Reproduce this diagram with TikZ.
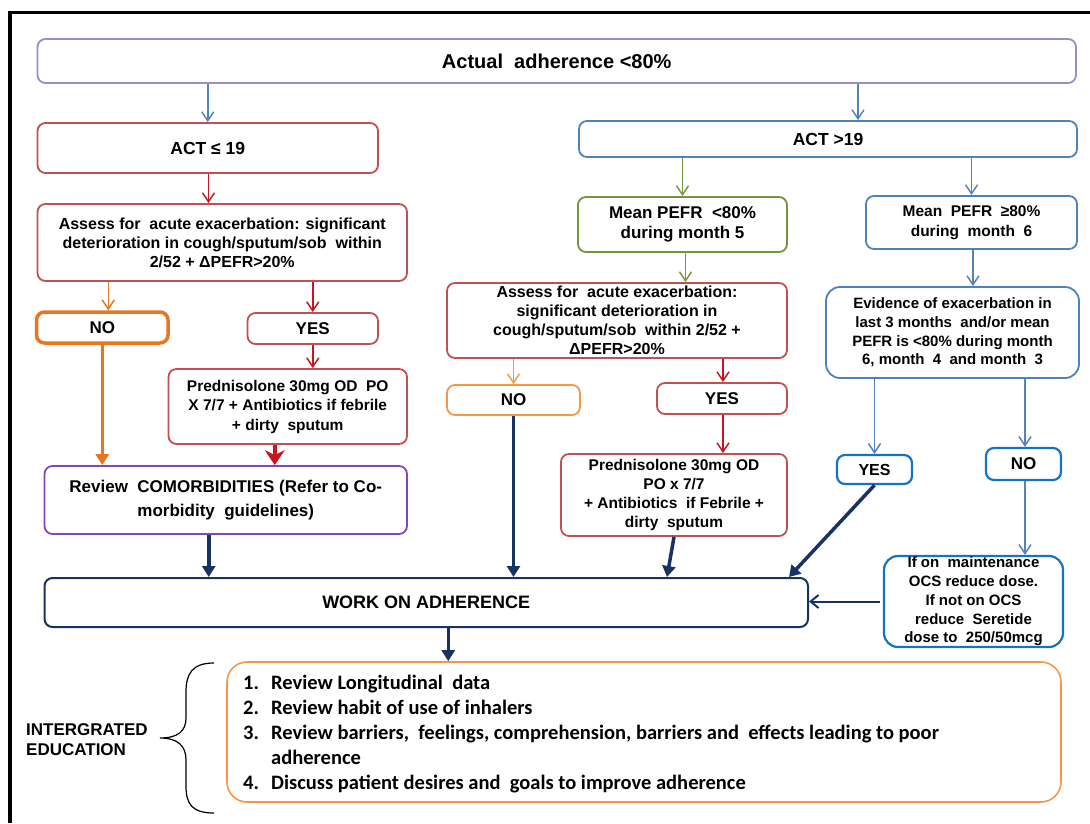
\documentclass[tikz,border=0pt]{standalone}
\usepackage{fontspec}
\setmainfont{Liberation Sans}
\newfontfamily\calib{Carlito}
\usetikzlibrary{arrows.meta}

\definecolor{lav}{RGB}{155,140,200}
\definecolor{arrblue}{RGB}{84,130,190}
\definecolor{boxred}{RGB}{195,80,80}
\definecolor{arrred}{RGB}{200,20,30}
\definecolor{boxgreen}{RGB}{119,147,60}
\definecolor{boxblue}{RGB}{79,129,189}
\definecolor{brightblue}{RGB}{20,115,195}
\definecolor{orangeA}{RGB}{232,118,30}
\definecolor{orangeB}{RGB}{247,150,70}
\definecolor{purp}{RGB}{130,70,185}
\definecolor{navy}{RGB}{25,50,100}

\tikzset{
  box/.style={draw, rounded corners=8pt, line width=1.8pt, align=center,
    inner sep=0pt, font=\bfseries\fontsize{16}{19}\selectfont},
  thin/.style={line width=1.5pt, -{Straight Barb[length=9pt,width=12pt]}},
  heavy/.style={draw=navy, line width=3.5pt, -{Triangle[length=11pt,width=13pt]}},
}

\begin{document}
\begin{tikzpicture}[x=1pt,y=-1pt]
\useasboundingbox (0,0) rectangle (1090,823);

% page frame
\draw[line width=2.7pt] (9.4,823) -- (9.4,11);
\draw[line width=1pt] (11.9,823) -- (11.9,14);
\draw[line width=2.8pt] (8,12.4) -- (1090,12.4);

% boxes
\node[box, draw=lav, minimum width=1038.5pt, minimum height=44pt,
  font=\bfseries\fontsize{20}{24}\selectfont] (top) at (556.75,61) {Actual \ adherence <80\%};

\node[box, draw=boxred, minimum width=340.5pt, minimum height=50pt,
  font=\bfseries\fontsize{17.5}{20}\selectfont] (act1) at (207.75,148) {ACT ≤ 19};
\node[box, draw=boxblue, minimum width=498pt, minimum height=36pt,
  font=\bfseries\fontsize{17.5}{20}\selectfont] (act2) at (828,139) {ACT >19};

\node[box, draw=boxred, minimum width=369.5pt, minimum height=77pt] (assL) at (222.25,242.5)
  {Assess for \ acute exacerbation: significant\\deterioration in cough/sputum/sob \ within\\2/52 + ΔPEFR>20\%};

\node[box, draw=boxgreen, minimum width=209pt, minimum height=55pt,
  font=\bfseries\fontsize{17}{19.5}\selectfont] (pefrL) at (682.5,224.5) {Mean PEFR \ <80\%\\during month 5};
\node[box, draw=boxblue, minimum width=211pt, minimum height=53pt,
  font=\bfseries\fontsize{15.5}{20}\selectfont] (pefrR) at (971.5,222.5) {Mean \ PEFR \ ≥80\%\\during \ month \ 6};

\node[box, draw=boxred, minimum width=340pt, minimum height=75pt] (assM) at (617,320.5)
  {Assess for \ acute exacerbation:\\significant deterioration in\\cough/sputum/sob \ within 2/52 +\\ΔPEFR>20\%};

\node[box, draw=boxblue, minimum width=253pt, minimum height=91pt, rounded corners=14pt,
  font=\bfseries\fontsize{15}{18.6}\selectfont] (evid) at (952.5,332.5)
  {Evidence of exacerbation in\\last 3 months \ and/or mean\\PEFR is <80\% during month\\6, month \ 4 \ and month \ 3};

\node[box, draw=orangeA, line width=3.5pt, minimum width=131.5pt, minimum height=31pt,
  font=\bfseries\fontsize{17}{20}\selectfont] (noL) at (102.25,327.5) {NO};
\node[box, draw=boxred, minimum width=130.5pt, minimum height=31pt,
  font=\bfseries\fontsize{17}{20}\selectfont] (yesL) at (312.75,328.5) {YES};

\node[box, draw=boxred, minimum width=238.5pt, minimum height=75pt,
  font=\bfseries\fontsize{15.5}{19.5}\selectfont] (predL) at (287.75,406.5)
  {Prednisolone 30mg OD \ PO\\X 7/7 + Antibiotics if febrile\\+ dirty \ sputum};

\node[box, draw=purp, minimum width=362.5pt, minimum height=68pt,
  font=\bfseries\fontsize{17}{24}\selectfont] (comorb) at (225.75,500)
  {Review \ COMORBIDITIES (Refer to Co-\\morbidity \ guidelines)};

\node[box, draw=orangeB, minimum width=133pt, minimum height=30pt,
  font=\bfseries\fontsize{17}{20}\selectfont] (noM) at (513.5,400) {NO};
\node[box, draw=boxred, minimum width=130pt, minimum height=31pt,
  font=\bfseries\fontsize{17}{20}\selectfont] (yesM) at (722,398.5) {YES};

\node[box, draw=boxred, minimum width=226pt, minimum height=82pt,
  font=\bfseries\fontsize{15.5}{19}\selectfont] (predM) at (674,495)
  {Prednisolone 30mg OD\\PO x 7/7\\+ Antibiotics \ if Febrile +\\dirty \ sputum};

\node[box, draw=brightblue, line width=2.2pt, minimum width=75pt, minimum height=29pt,
  font=\bfseries\fontsize{16}{20}\selectfont] (yesR) at (874.5,469.5) {YES};
\node[box, draw=brightblue, line width=2.2pt, minimum width=75pt, minimum height=32pt,
  font=\bfseries\fontsize{17}{20}\selectfont] (noR) at (1023.5,464) {NO};

\node[box, draw=brightblue, line width=2.2pt, minimum width=179pt, minimum height=91pt,
  rounded corners=14pt, font=\bfseries\fontsize{15}{18.7}\selectfont] (ifbox) at (973.5,601.5)
  {If on \ maintenance\\OCS reduce dose.\\If not on OCS\\reduce \ Seretide\\dose to \ 250/50mcg};

\node[box, draw=navy, line width=2pt, minimum width=763.5pt, minimum height=49pt,
  font=\bfseries\fontsize{18}{22}\selectfont] (work) at (426.25,602.5) {WORK ON ADHERENCE};

\node[box, draw=orangeB, line width=1.6pt, rounded corners=20pt, minimum width=834pt,
  minimum height=140pt] (edu) at (644,732) {};

% list inside the education box
\node[anchor=west, align=left, inner sep=0pt,
  font=\calib\bfseries\fontsize{20.5}{25}\selectfont] (items) at (243,734)
  {\makebox[28pt][l]{1.}Review Longitudinal \ data\\
   \makebox[28pt][l]{2.}Review habit of use of inhalers\\
   \makebox[28pt][l]{3.}Review barriers, \ feelings, comprehension, barriers and \ effects leading to poor\\
   \hspace*{28pt}adherence\\
   \makebox[28pt][l]{4.}Discuss patient desires and \ goals to improve adherence};

% side label and brace
\node[anchor=west, align=left, inner sep=0pt,
  font=\bfseries\fontsize{17}{20}\selectfont] (edlabel) at (26,740) {INTERGRATED\\EDUCATION};
\draw[line width=1.2pt] (214,663) .. controls (192,663) and (186,674) .. (186,692)
  -- (186,718) .. controls (186,731) and (178,738) .. (160,738)
  .. controls (178,738) and (186,746) .. (186,760)
  -- (186,786) .. controls (186,804) and (192,813) .. (214,813);

% connectors
\draw[thin, draw=arrblue] (act1.north |- top.south) -- (act1.north);
\draw[thin, draw=arrblue] ([xshift=30pt]act2.north |- top.south) -- ([xshift=30pt]act2.north);
\draw[thin, draw=arrred] ([xshift=0.75pt]act1.south) -- ([xshift=0.75pt]act1.south |- assL.north);
\draw[thin, draw=boxgreen] (pefrL.north |- act2.south) -- (pefrL.north);
\draw[thin, draw=arrblue] (pefrR.north |- act2.south) -- (pefrR.north);
\draw[thin, draw=boxgreen] ([xshift=3pt]pefrL.south) -- ([xshift=3pt]pefrL.south |- assM.north);
\draw[thin, draw=arrblue] ([xshift=1.5pt]pefrR.south) -- ([xshift=1.5pt]pefrR.south |- evid.north);

\draw[thin, draw=orangeA] ([xshift=6pt]noL.north |- assL.south) -- ([xshift=6pt]noL.north);
\draw[thin, draw=arrred] (yesL.north |- assL.south) -- (yesL.north);
\draw[thin, draw=arrred] (yesL.south) -- (yesL.south |- predL.north);
\draw[draw=orangeA, line width=3.5pt, -{Triangle[length=11pt,width=13pt]}]
  (noL.south) -- (noL.south |- comorb.north);
\draw[draw=arrred, line width=3.5pt, -{Stealth[length=15pt,width=20pt,inset=5pt]}]
  ([xshift=-13pt]predL.south) -- ([xshift=-13pt]predL.south |- comorb.north);

\draw[thin, draw=orangeB] (noM.north |- assM.south) -- (noM.north);
\draw[thin, draw=arrred] ([xshift=1pt]yesM.north |- assM.south) -- ([xshift=1pt]yesM.north);
\draw[thin, draw=arrred] ([xshift=1pt]yesM.south) -- ([xshift=1pt]yesM.south |- predM.north);

\draw[thin, draw=arrblue] (yesR.north |- evid.south) -- (yesR.north);
\draw[thin, draw=arrblue] ([xshift=1.5pt]noR.north |- evid.south) -- ([xshift=1.5pt]noR.north);
\draw[thin, draw=arrblue] ([xshift=1.5pt]noR.south) -- ([xshift=1.5pt]noR.south |- ifbox.north);

\draw[heavy] ([xshift=-17pt]comorb.south) -- ([xshift=-17pt]comorb.south |- work.north);
\draw[heavy] (noM.south) -- (noM.south |- work.north);
\draw[heavy] (predM.south) -- ([xshift=-7pt]predM.south |- work.north);
\draw[heavy] (yesR.south) -- ([xshift=-20pt]work.north east);
\draw[draw=navy, line width=2pt, -{Straight Barb[length=8pt,width=13pt]}, shorten <=3pt]
  (ifbox.west) -- (ifbox.west -| work.east);
\draw[heavy] ([xshift=22pt]work.south) -- ([xshift=22pt]work.south |- edu.north);

\end{tikzpicture}
\end{document}
